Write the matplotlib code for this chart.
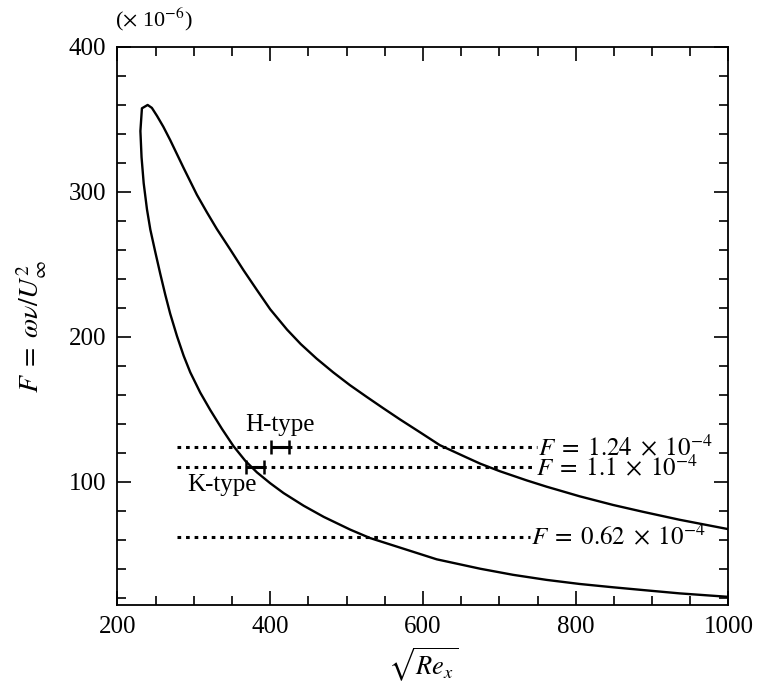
import numpy as np
import matplotlib
matplotlib.use("Agg")
import matplotlib.pyplot as plt

plt.rcParams['font.family'] = ['Liberation Serif', 'DejaVu Serif']
plt.rcParams['mathtext.fontset'] = 'stix'

# neutral curve, lower branch (from x=1000 back to the nose)
lower_x = [1000, 936, 888, 849, 805, 762, 718, 675, 618, 530.6, 504.7, 470,
           443.7, 417.5, 400, 382.6, 367.3, 352, 336.8, 321.5, 308.4, 295.3,
           286.6, 277.9, 269, 262.6, 256, 249.5, 243, 238.6, 234.3, 231.5, 230]
lower_y = [20.6, 23, 25.3, 27.2, 29.5, 32.3, 35.8, 40, 46.5, 61.2, 67, 75.8,
           83.5, 92.2, 99, 106.5, 114.5, 124.5, 136.5, 149.5, 161.5, 175.5,
           187, 200.5, 216, 229, 243.5, 258.5, 274, 288, 306, 324, 342]
# upper branch (from the nose out to x=1000)
upper_x = [232, 239.5, 245, 251.7, 260, 269, 286.6, 304, 317, 330, 347.6, 365,
           382.6, 400, 422, 440, 460.7, 482.5, 504.3, 526, 547.9, 570, 596,
           622, 657, 675, 700.6, 735.6, 762, 779, 805, 849, 888, 936, 1000]
upper_y = [357.7, 360, 358, 352.5, 345, 335.8, 316.5, 298, 286, 274.5,
           260.3, 246, 232.3, 219, 205, 195, 185, 175.5, 166.7, 158.7,
           150.8, 143, 134.2, 125.3, 116.8, 112.5, 107.3, 101, 96.6, 94,
           90, 84, 79.3, 73.8, 67.3]

# frequency lines
freq_vals = [124, 110, 62]
freq_x0 = [278, 278, 278]
freq_x1 = [749, 747, 740]
freq_labels = [r'$F\;=\;1.24\;\times\;10^{-4}$', r'$F\;=\;1.1\;\times\;10^{-4}$',
               r'$F\;=\;0.62\;\times\;10^{-4}$']

# H-type / K-type ranges
types = ['H-type', 'K-type']
type_center = [412.7, 380.0]
type_half = [11.4, 11.4]
type_F = [124, 110]

curve_x = np.array(lower_x + upper_x)
curve_y = np.array(lower_y + upper_y)

fig = plt.figure(figsize=(7.58, 6.87), dpi=100)
ax = fig.add_axes([0.155, 0.1194, 0.806, 0.8122])

ax.plot(curve_x, curve_y, color='black', lw=1.7, solid_joinstyle='round')

for f, x0, x1, lab in zip(freq_vals, freq_x0, freq_x1, freq_labels):
    ax.plot([x0, x1], [f, f], color='black', lw=2.2, ls=(0, (1.2, 1.6)))
    ax.text(x1 + 1, f, lab, fontsize=18, va='center', ha='left')

for name, c, h, f in zip(types, type_center, type_half, type_F):
    ax.errorbar(c, f, xerr=h, fmt='none', ecolor='black', elinewidth=2.2,
                capsize=5, capthick=1.8)
ax.text(type_center[0], type_F[0] + 15, types[0], fontsize=18, ha='center', va='center')
ax.text(337, 97.7, types[1], fontsize=18, ha='center', va='center')

ax.set_xlim(200, 1000)
ax.set_ylim(15, 400)
ax.set_xticks([200, 400, 600, 800, 1000])
ax.set_xticks(np.arange(250, 1000, 50), minor=True)
ax.set_yticks([100, 200, 300, 400])
ax.set_yticks(np.arange(20, 400, 20), minor=True)
ax.tick_params(which='both', direction='in', top=True, right=True, labelsize=18, width=1.2)
ax.tick_params(which='major', length=10, pad=8)
ax.tick_params(which='minor', length=6.5)
for s in ax.spines.values():
    s.set_linewidth(1.3)

ax.set_xlabel(r'$\sqrt{Re_x}$', fontsize=19, labelpad=6)
ax.set_ylabel(r'$F\;=\;\omega\nu/U_\infty^2$', fontsize=20, labelpad=14)
fig.text(0.152, 0.972, r'($\times$ 10$^{-6}$)', fontsize=16, ha='left', va='center')

fig.savefig('out.png', dpi=100)
